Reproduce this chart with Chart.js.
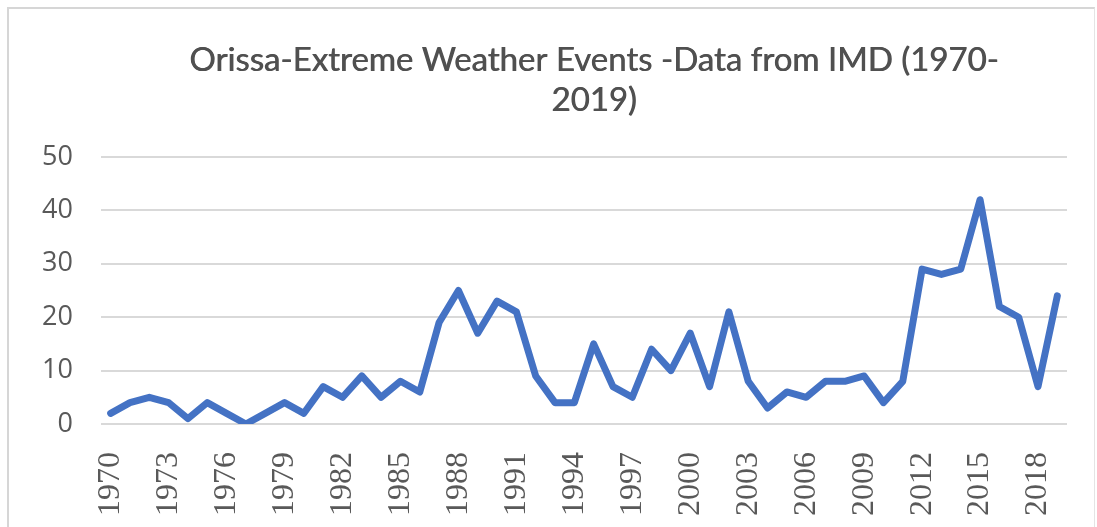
<!DOCTYPE html>
<html>
<head>
<meta charset="utf-8">
<script src="https://cdn.jsdelivr.net/npm/chart.js@4.4.1/dist/chart.umd.min.js"></script>
<style>
  html, body { margin: 0; padding: 0; background: #ffffff; }
  #wrap { position: relative; width: 1097px; height: 527px; overflow: hidden; }
  #frame {
    position: absolute; left: 7px; top: 7px; width: 1088px; height: 540px;
    border-left: 2px solid #d6d6d6; border-top: 2px solid #d6d6d6; border-right: 1px solid #e4e4e4;
    box-sizing: border-box; pointer-events: none;
  }
  canvas { display: block; }
</style>
</head>
<body>
<div id="wrap">
  <canvas id="chart" width="1097" height="527"></canvas>
  <div id="frame"></div>
</div>
<script>
// Yearly count of extreme weather events in Orissa (IMD records)
const years = [
  1970, 1971, 1972, 1973, 1974, 1975, 1976, 1977, 1978, 1979,
  1980, 1981, 1982, 1983, 1984, 1985, 1986, 1987, 1988, 1989,
  1990, 1991, 1992, 1993, 1994, 1995, 1996, 1997, 1998, 1999,
  2000, 2001, 2002, 2003, 2004, 2005, 2006, 2007, 2008, 2009,
  2010, 2011, 2012, 2013, 2014, 2015, 2016, 2017, 2018, 2019
];
const events = [
  2, 4, 5, 4, 1, 4, 2, 0, 2, 4,
  2, 7, 5, 9, 5, 8, 6, 19, 25, 17,
  23, 21, 9, 4, 4, 15, 7, 5, 14, 10,
  17, 7, 21, 8, 3, 6, 5, 8, 8, 9,
  4, 8, 29, 28, 29, 42, 22, 20, 7, 24
];
const yTicks = [0, 10, 20, 30, 40, 50];
const titleLines = ['Orissa-Extreme Weather Events -Data from IMD (1970-', '2019)'];

const textGrey = '#595959';
const gridGrey = '#d9d9d9';

// Title drawn centred a little right of the plot centre, in two lines
const titlePlugin = {
  id: 'twoLineTitle',
  afterDraw(chart) {
    const ctx = chart.ctx;
    ctx.save();
    ctx.fillStyle = '#505050';
    ctx.font = '33px Lato, "Open Sans", sans-serif';
    ctx.textAlign = 'center';
    ctx.textBaseline = 'middle';
    const cx = (chart.chartArea.left + chart.chartArea.right) / 2 + 10;
    titleLines.forEach((line, i) => {
      ctx.fillText(line, cx, 60 + i * 40);
      ctx.fillText(line, cx + 0.6, 60 + i * 40);
    });
    ctx.restore();
  }
};

new Chart(document.getElementById('chart'), {
  type: 'line',
  data: {
    labels: years.map(String),
    datasets: [{
      label: 'Events',
      data: events,
      borderColor: '#4472C4',
      backgroundColor: '#4472C4',
      borderWidth: 7,
      pointRadius: 0,
      pointHoverRadius: 0,
      tension: 0,
      borderJoinStyle: 'round',
      borderCapStyle: 'round',
      fill: false
    }]
  },
  options: {
    responsive: false,
    animation: false,
    devicePixelRatio: 1,
    layout: { padding: { left: 0, right: 30, top: 157, bottom: 0 } },
    plugins: {
      legend: { display: false },
      tooltip: { enabled: false },
      title: { display: false }
    },
    scales: {
      x: {
        type: 'category',
        offset: true,
        grid: { display: false, drawTicks: false },
        border: { display: false },
        ticks: {
          autoSkip: false,
          minRotation: 90,
          maxRotation: 90,
          padding: 28,
          color: textGrey,
          font: { family: '"Liberation Serif", "DejaVu Serif", serif', size: 32 },
          callback: function (value, index) {
            return index % 3 === 0 ? years[index] : '';
          }
        },
        afterFit: function (scale) {
          scale.height = 103;
          scale.paddingLeft = 0;
          scale.paddingRight = 0;
        }
      },
      y: {
        min: 0,
        max: 50,
        afterBuildTicks: function (scale) {
          scale.ticks = yTicks.map(v => ({ value: v }));
        },
        grid: { color: gridGrey, lineWidth: 2, drawTicks: false },
        border: { display: false },
        ticks: {
          padding: 28,
          color: textGrey,
          font: { family: '"Open Sans", "Noto Sans", sans-serif', size: 27, weight: 'normal' }
        },
        afterFit: function (scale) {
          scale.width = 101;
          scale.paddingTop = 0;
          scale.paddingBottom = 0;
        }
      }
    }
  },
  plugins: [titlePlugin]
});
</script>
</body>
</html>
